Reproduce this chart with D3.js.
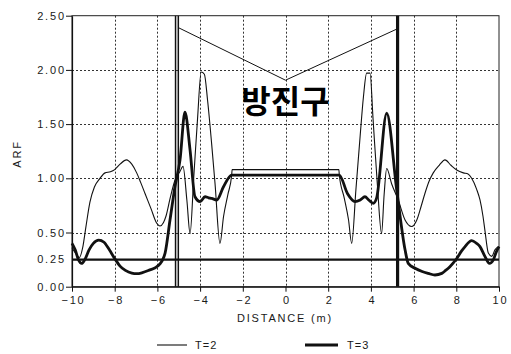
<!DOCTYPE html>
<html>
<head>
<meta charset="utf-8">
<script src="https://cdn.jsdelivr.net/npm/d3@7"></script>
<style>
  html, body { margin: 0; padding: 0; background: #fff; }
  svg { display: block; }
  .lbl { font-family: "Liberation Sans", Arial, sans-serif; font-size: 11px; fill: #1a1a1a; letter-spacing: 1.8px; }
</style>
</head>
<body>
<svg id="chart" width="511" height="354"></svg>
<script>
// Distance along the track (m) and ARF for period T=2
const t2Distance = [-10, -9.8, -9.65, -9.5, -9.35, -9.16, -8.95, -8.69, -8.45, -8.2, -8.0, -7.75, -7.45, -7.2, -6.97, -6.78, -6.58, -6.3, -6.03, -5.88, -5.72, -5.6, -5.4, -5.18, -4.95, -4.8, -4.62, -4.47, -4.3, -4.12, -3.95, -3.8, -3.65, -3.46, -3.3, -3.07, -2.9, -2.7, -2.52, -2.5,
  2.5, 2.52, 2.75, 2.95, 3.1, 3.3, 3.5, 3.65, 3.8, 3.96, 4.1, 4.3, 4.5, 4.62, 4.74, 4.97, 5.28, 5.6, 5.91, 6.15, 6.35, 6.53, 6.72, 6.92, 7.2, 7.47, 7.75, 8.02, 8.33, 8.55, 8.72, 8.95, 9.11, 9.25, 9.34, 9.5, 9.66, 9.81, 10];
const t2Arf = [0.36, 0.30, 0.27, 0.36, 0.55, 0.78, 0.92, 1.00, 1.05, 1.06, 1.08, 1.13, 1.17, 1.13, 1.05, 0.96, 0.86, 0.72, 0.585, 0.56, 0.59, 0.65, 0.82, 0.98, 1.06, 1.11, 0.80, 0.49, 1.00, 1.55, 1.98, 1.96, 1.72, 1.32, 0.95, 0.40, 0.65, 0.85, 1.03, 1.08,
  1.08, 1.03, 0.82, 0.62, 0.40, 0.90, 1.40, 1.75, 1.97, 1.97, 1.55, 0.95, 0.49, 0.85, 1.09, 0.95, 0.80, 0.615, 0.555, 0.615, 0.74, 0.86, 0.97, 1.05, 1.12, 1.17, 1.12, 1.077, 1.05, 1.04, 1.00, 0.90, 0.80, 0.65, 0.52, 0.31, 0.28, 0.34, 0.37];

// Distance (m) and ARF for period T=3
const t3Distance = [-10, -9.85, -9.7, -9.55, -9.4, -9.2, -9.0, -8.75, -8.5, -8.25, -8.0, -7.75, -7.5, -7.2, -6.97, -6.7, -6.35, -6.1, -5.88, -5.75, -5.64, -5.41, -5.18, -4.94, -4.71, -4.47, -4.24, -4.0, -3.77, -3.6, -3.46, -3.22, -2.91, -2.52,
  2.52, 2.9, 3.26, 3.5, 3.72, 3.9, 4.11, 4.27, 4.74, 5.21, 5.6, 5.75, 6.07, 6.4, 6.69, 7.0, 7.32, 7.5, 7.7, 8.02, 8.25, 8.41, 8.72, 8.95, 9.11, 9.34, 9.55, 9.73, 9.85, 10];
const t3Arf = [0.40, 0.34, 0.25, 0.215, 0.25, 0.34, 0.40, 0.43, 0.41, 0.34, 0.26, 0.19, 0.15, 0.125, 0.12, 0.13, 0.155, 0.175, 0.21, 0.25, 0.31, 0.615, 0.92, 1.17, 1.61, 1.26, 0.83, 0.785, 0.83, 0.82, 0.815, 0.80, 0.92, 1.03,
  1.03, 0.86, 0.785, 0.80, 0.83, 0.80, 0.77, 0.82, 1.60, 0.89, 0.34, 0.215, 0.17, 0.14, 0.123, 0.108, 0.123, 0.15, 0.185, 0.26, 0.33, 0.37, 0.425, 0.40, 0.37, 0.28, 0.215, 0.245, 0.31, 0.37];

// Reference ARF level, support wall positions and the V-shaped envelope
const referenceLevel = 0.25;
const leftWalls = [-5.15, -5.02];
const rightWalls = [5.25];
const envelopeDistance = [-5.02, 0, 5.25];
const envelopeArf = [2.39, 1.905, 2.38];

// Axis ticks and labels
const xTicks = [-10, -8, -6, -4, -2, 0, 2, 4, 6, 8, 10];
const yTicks = [0, 0.5, 1.0, 1.5, 2.0, 2.5];
const extraYLabel = [0.25];
const xGrid = [-8, -6, -4, -2, 0, 2, 4, 6, 8];
const yGrid = [0.5, 1.0, 1.5, 2.0];
const seriesNames = ["T=2", "T=3"];
const xTitle = "DISTANCE (m)";
const yTitle = "ARF";
const annotation = "방진구";

const svg = d3.select("#chart");
const x = d3.scaleLinear().domain([-10, 10]).range([72, 499]);
const y = d3.scaleLinear().domain([0, 2.5]).range([286.7, 15.7]);
const ink = "#111";

// Dotted grid
const grid = svg.append("g").attr("stroke", "#333").attr("stroke-width", 1).attr("stroke-dasharray", "2,2");
grid.selectAll(".gx").data(xGrid).join("line")
  .attr("x1", d => Math.round(x(d)) + 0.5).attr("x2", d => Math.round(x(d)) + 0.5)
  .attr("y1", y(2.5)).attr("y2", y(0));
grid.selectAll(".gy").data(yGrid).join("line")
  .attr("y1", d => Math.round(y(d)) + 0.5).attr("y2", d => Math.round(y(d)) + 0.5)
  .attr("x1", x(-10)).attr("x2", x(10));

// Plot frame
svg.append("rect")
  .attr("x", x(-10)).attr("y", y(2.5))
  .attr("width", x(10) - x(-10)).attr("height", y(0) - y(2.5))
  .attr("fill", "none").attr("stroke", "#222").attr("stroke-width", 1);

// Axes
const xAxis = svg.append("g").attr("transform", `translate(0,${y(0)})`)
  .call(d3.axisBottom(x).tickValues(xTicks).tickSize(5).tickSizeOuter(0).tickFormat(d3.format("d")));
const yAxis = svg.append("g").attr("transform", `translate(${x(-10)},0)`)
  .call(d3.axisLeft(y).tickValues(yTicks).tickSize(6).tickSizeOuter(0).tickFormat(d3.format(".2f")));
[xAxis, yAxis].forEach(a => {
  a.select(".domain").attr("stroke", ink).attr("stroke-width", 1.2);
  a.selectAll(".tick line").attr("stroke", ink);
  a.selectAll(".tick text").attr("class", "lbl").attr("font-size", null).attr("font-family", null).attr("fill", null);
});
xAxis.selectAll(".tick text").attr("dy", null).attr("y", 17).attr("dx", "1px");
yAxis.selectAll(".tick text").attr("x", -8).attr("dx", "1.8px");

svg.selectAll(".extra-y").data(extraYLabel).join("text")
  .attr("class", "lbl").attr("text-anchor", "end")
  .attr("x", x(-10) - 8).attr("dx", "1.8px").attr("y", d => y(d)).attr("dy", "0.32em")
  .text(d => d3.format(".2f")(d));

// Axis titles
svg.append("text").attr("class", "lbl").attr("text-anchor", "middle")
  .attr("x", 285).attr("y", 322).text(xTitle);
svg.append("text").attr("class", "lbl").attr("text-anchor", "middle")
  .attr("transform", "translate(21,154) rotate(-90)").text(yTitle);

// Annotation above the track
svg.append("text")
  .attr("x", x(0)).attr("y", 99)
  .attr("text-anchor", "middle").attr("dominant-baseline", "central")
  .attr("font-family", "'Noto Sans CJK KR', sans-serif").attr("font-weight", 700)
  .attr("font-size", 32).attr("fill", "#000")
  .text(annotation);

// Reference level
svg.append("line")
  .attr("x1", x(-10)).attr("x2", x(10))
  .attr("y1", y(referenceLevel)).attr("y2", y(referenceLevel))
  .attr("stroke", ink).attr("stroke-width", 2.4);

// Support walls
svg.selectAll(".wl").data(leftWalls).join("line")
  .attr("x1", d => x(d)).attr("x2", d => x(d)).attr("y1", y(2.5)).attr("y2", y(0))
  .attr("stroke", ink).attr("stroke-width", 1.5);
svg.selectAll(".wr").data(rightWalls).join("line")
  .attr("x1", d => x(d)).attr("x2", d => x(d)).attr("y1", y(2.5)).attr("y2", y(0))
  .attr("stroke", ink).attr("stroke-width", 3.2);

// V-shaped envelope
svg.append("path")
  .datum(d3.zip(envelopeDistance, envelopeArf))
  .attr("d", d3.line().x(d => x(d[0])).y(d => y(d[1])))
  .attr("fill", "none").attr("stroke", ink).attr("stroke-width", 1);

// ARF series
const line = d3.line().x(d => x(d[0])).y(d => y(d[1])).curve(d3.curveMonotoneX);
svg.append("path").datum(d3.zip(t2Distance, t2Arf))
  .attr("d", line).attr("fill", "none").attr("stroke", ink).attr("stroke-width", 1.1).attr("stroke-linejoin", "round");
svg.append("path").datum(d3.zip(t3Distance, t3Arf))
  .attr("d", line).attr("fill", "none").attr("stroke", ink).attr("stroke-width", 2.8).attr("stroke-linejoin", "round");

// Legend
const legendItems = [
  { name: seriesNames[0], x1: 157, x2: 187, tx: 195, w: 1.1 },
  { name: seriesNames[1], x1: 305, x2: 338, tx: 347, w: 2.8 }
];
const lg = svg.append("g");
lg.selectAll("line").data(legendItems).join("line")
  .attr("x1", d => d.x1).attr("x2", d => d.x2).attr("y1", 345).attr("y2", 345)
  .attr("stroke", ink).attr("stroke-width", d => d.w);
lg.selectAll("text").data(legendItems).join("text")
  .attr("class", "lbl").attr("x", d => d.tx).attr("y", 345).attr("dy", "0.35em")
  .style("letter-spacing", "1px")
  .text(d => d.name);
</script>
</body>
</html>
